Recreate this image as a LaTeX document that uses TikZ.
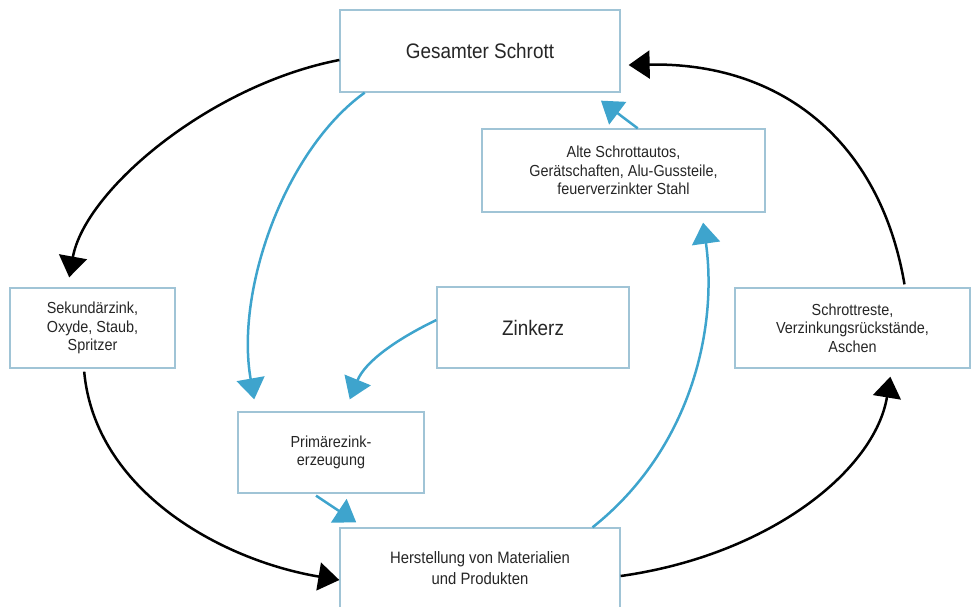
\documentclass[tikz,border=0pt]{standalone}
\usepackage{fontspec}
\setmainfont{Liberation Sans}[FakeStretch=0.9]
\usetikzlibrary{arrows.meta,calc}
\definecolor{boxc}{RGB}{160,196,214}
\definecolor{flow}{RGB}{62,164,205}
\tikzset{
  box/.style={draw=boxc,line width=1.3pt,fill=white,align=center,inner sep=2pt,text=black!85,font=\fontsize{16}{18.5}\selectfont},
  blk/.style={line width=2.5pt,black,-{Triangle[length=21pt,width=28pt]}},
  blu/.style={line width=2.5pt,flow,-{Triangle[length=21pt,width=28pt]}},
}
\begin{document}
\begin{tikzpicture}[x=1pt,y=-1pt]
\useasboundingbox (0,0) rectangle (973,606);
\node[box,minimum width=280pt,minimum height=82pt,font=\fontsize{21}{24}\selectfont] (gs) at (480,51) {Gesamter Schrott};
\node[box,minimum width=283pt,minimum height=83pt] (alte) at (623.5,170.5) {Alte Schrottautos,\\Gerätschaften, Alu-Gussteile,\\feuerverzinkter Stahl};
\node[box,minimum width=165pt,minimum height=80pt] (sek) at (92.5,328) {Sekundärzink,\\Oxyde, Staub,\\Spritzer};
\node[box,minimum width=235pt,minimum height=80pt] (sr) at (852.5,328) {Schrottreste,\\Verzinkungsrückstände,\\Aschen};
\node[box,minimum width=192pt,minimum height=81pt,font=\fontsize{21}{24}\selectfont] (zk) at (533,327.5) {Zinkerz};
\node[box,minimum width=186pt,minimum height=81pt] (pz) at (331,452.5) {Primärezink-\\erzeugung};
\node[box,minimum width=280pt,minimum height=80pt,font=\fontsize{16.5}{21}\selectfont] (hs) at (480,568) {Herstellung von Materialien\\und Produkten};
% black cycle
\draw[blk] (gs.west |- 0,60) .. controls (210,85) and (85,190) .. ($(sek.north west)!0.36!(sek.north east)+(0,-10)$);
\draw[blk] ($(sek.south west)!0.45!(sek.south east)+(0,3)$) .. controls (95,490) and (220,560) .. ($(hs.west)+(0,12)$);
\draw[blk] ($(hs.east)+(0,8)$) .. controls (770,555) and (875,470) .. ($(sr.south west)!0.66!(sr.south east)+(0,8)$);
\draw[blk] ($(sr.north west)!0.72!(sr.north east)+(0,-3)$) .. controls (880,140) and (780,62) .. ($(gs.east)+(8,14)$);
% blue flows
\draw[blu] ($(gs.south west)!0.09!(gs.south east)$) .. controls (285,150) and (235,290) .. ($(pz.north west)!0.09!(pz.north east)+(0,-12)$);
\draw[blu] (zk.west |- 0,320) .. controls (395,340) and (365,362) .. ($(pz.north west)!0.6!(pz.north east)+(0,-12)$);
\draw[blu] ($(pz.south west)!0.42!(pz.south east)+(0,2)$) -- ($(hs.north west)!0.06!(hs.north east)+(0,-5)$);
\draw[blu] ($(hs.north west)!0.9!(hs.north east)$) .. controls (690,450) and (718,330) .. ($(alte.south west)!0.78!(alte.south east)+(0,10)$);
\draw[blu] ($(alte.north west)!0.55!(alte.north east)$) -- ($(gs.south west)!0.93!(gs.south east)+(0,8)$);
\end{tikzpicture}
\end{document}
